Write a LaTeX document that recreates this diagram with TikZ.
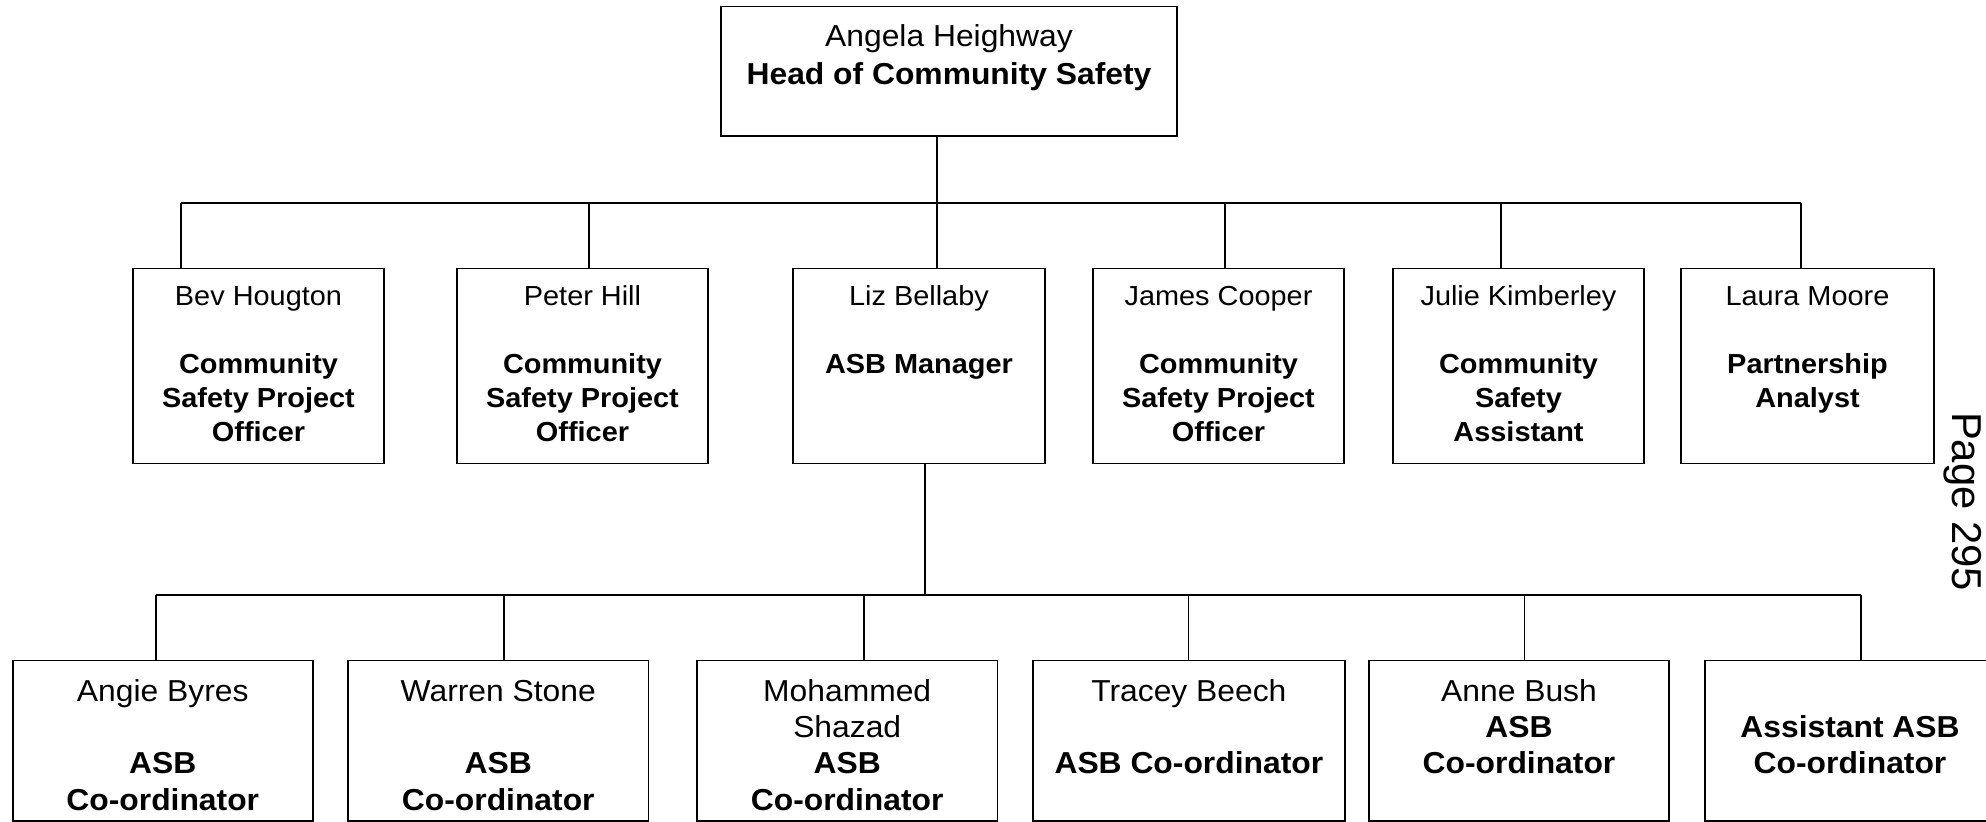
\documentclass[tikz,border=0pt]{standalone}
\usepackage{fontspec}
\setmainfont[FakeStretch=1.05]{Liberation Sans}
\newfontfamily\pagefont{Liberation Sans}
\usetikzlibrary{fit,calc}
\begin{document}
\begin{tikzpicture}[x=0.5pt,y=-0.5pt,
  box/.style={draw, line width=0.9pt, inner sep=0pt, rectangle},
  txt/.style={anchor=north, inner sep=0pt, align=center},
  topf/.style={font=\fontsize{15.15}{19.15}\selectfont},
  midf/.style={font=\fontsize{13.76}{17.1}\selectfont},
  lowf/.style={font=\fontsize{15.15}{18.2}\selectfont},
  link/.style={line width=0.9pt}]
\clip (0,0) rectangle (1986,822);
\fill[white] (0,0) rectangle (1986,822);

% top
\node[box, fit={(721,6.5) (1177,136)}] (head) {};
\node[txt, topf] (headt) at ($(head.north)+(0,16.2)$) {\rule{0pt}{12pt}Angela Heighway\\\textbf{Head of Community Safety}};

% row 2
\node[box, fit={(133,268.5) (384,463.6)}] (bev) {};
\node[box, fit={(457,268.5) (708,463.6)}] (peter) {};
\node[box, fit={(793,268.5) (1045,463.6)}] (liz) {};
\node[box, fit={(1093,268.5) (1344,463.6)}] (james) {};
\node[box, fit={(1393,268.5) (1644,463.6)}] (julie) {};
\node[box, fit={(1681,268.5) (1934,463.6)}] (laura) {};

\node[txt, midf] (bevt) at ($(bev.north)+(0,13.1)$) {\rule{0pt}{12pt}Bev Hougton\\\mbox{}\\\textbf{Community}\\\textbf{Safety Project}\\\textbf{Officer}};
\node[txt, midf] (petert) at ($(peter.north)+(0,13.1)$) {\rule{0pt}{12pt}Peter Hill\\\mbox{}\\\textbf{Community}\\\textbf{Safety Project}\\\textbf{Officer}};
\node[txt, midf] (lizt) at ($(liz.north)+(0,13.1)$) {\rule{0pt}{12pt}Liz Bellaby\\\mbox{}\\\textbf{ASB Manager}};
\node[txt, midf] (jamest) at ($(james.north)+(0,13.1)$) {\rule{0pt}{12pt}James Cooper\\\mbox{}\\\textbf{Community}\\\textbf{Safety Project}\\\textbf{Officer}};
\node[txt, midf] (juliet) at ($(julie.north)+(0,13.1)$) {\rule{0pt}{12pt}Julie Kimberley\\\mbox{}\\\textbf{Community}\\\textbf{Safety}\\\textbf{Assistant}};
\node[txt, midf] (laurat) at ($(laura.north)+(0,13.1)$) {\rule{0pt}{12pt}Laura Moore\\\mbox{}\\\textbf{Partnership}\\\textbf{Analyst}};

% row 3
\node[box, fit={(12.7,660.5) (312.8,821)}] (angie) {};
\node[box, fit={(348,660.5) (648.5,821)}] (warren) {};
\node[box, fit={(697,660.5) (997.4,821)}] (moh) {};
\node[box, fit={(1032.7,660.5) (1345,821)}] (tracey) {};
\node[box, fit={(1369,660.5) (1669,821)}] (anne) {};
\node[box, fit={(1705,660.5) (1995,821)}] (asst) {};

\node[txt, lowf] (angiet) at ($(angie.north)+(0,17.2)$) {\rule{0pt}{12pt}Angie Byres\\\mbox{}\\\textbf{ASB}\\\textbf{Co-ordinator}};
\node[txt, lowf] (warrent) at ($(warren.north)+(0,17.2)$) {\rule{0pt}{12pt}Warren Stone\\\mbox{}\\\textbf{ASB}\\\textbf{Co-ordinator}};
\node[txt, lowf] (moht) at ($(moh.north)+(0,17.2)$) {\rule{0pt}{12pt}Mohammed\\Shazad\\\textbf{ASB}\\\textbf{Co-ordinator}};
\node[txt, lowf] (traceyt) at ($(tracey.north)+(0,17.2)$) {\rule{0pt}{12pt}Tracey Beech\\\mbox{}\\\textbf{ASB Co-ordinator}};
\node[txt, lowf] (annet) at ($(anne.north)+(0,17.2)$) {\rule{0pt}{12pt}Anne Bush\\\textbf{ASB}\\\textbf{Co-ordinator}};
\node[txt, lowf] (asstt) at ($(asst.north)+(0,17.2)$) {\rule{0pt}{12pt}\\\textbf{Assistant ASB}\\\textbf{Co-ordinator}};

% connectors top -> row 2
\coordinate (hb) at (937,202.7);
\coordinate (b1) at (181,202.7);
\coordinate (b2) at (589,202.7);
\coordinate (b3) at (937,202.7);
\coordinate (b4) at (1225,202.7);
\coordinate (b5) at (1501,202.7);
\coordinate (b6) at (1801,202.7);
\draw[link] (head.south -| hb) -- (hb);
\draw[link] (b1) -- (b6);
\draw[link] (b1) -- (b1 |- bev.north);
\draw[link] (b2) -- (b2 |- peter.north);
\draw[link] (b3) -- (b3 |- liz.north);
\draw[link] (b4) -- (b4 |- james.north);
\draw[link] (b5) -- (b5 |- julie.north);
\draw[link] (b6) -- (b6 |- laura.north);

% connectors liz -> row 3
\coordinate (lb) at (925,595);
\coordinate (c1) at (155.8,595);
\coordinate (c2) at (504,595);
\coordinate (c3) at (864,595);
\coordinate (c4) at (1188.5,595);
\coordinate (c5) at (1524.5,595);
\coordinate (c6) at (1861,595);
\draw[link] (liz.south -| lb) -- (lb);
\draw[link] (c1) -- (c6);
\draw[link] (c1) -- (c1 |- angie.north);
\draw[link] (c2) -- (c2 |- warren.north);
\draw[link] (c3) -- (c3 |- moh.north);
\draw[link] (c4) -- (c4 |- tracey.north);
\draw[link] (c5) -- (c5 |- anne.north);
\draw[link] (c6) -- (c6 |- asst.north);

% page number
\node[rotate=-90, anchor=base west, inner sep=0pt, font=\pagefont\fontsize{20.9}{25}\selectfont] (page) at (1952,411.7) {Page 295};
\end{tikzpicture}
\end{document}
